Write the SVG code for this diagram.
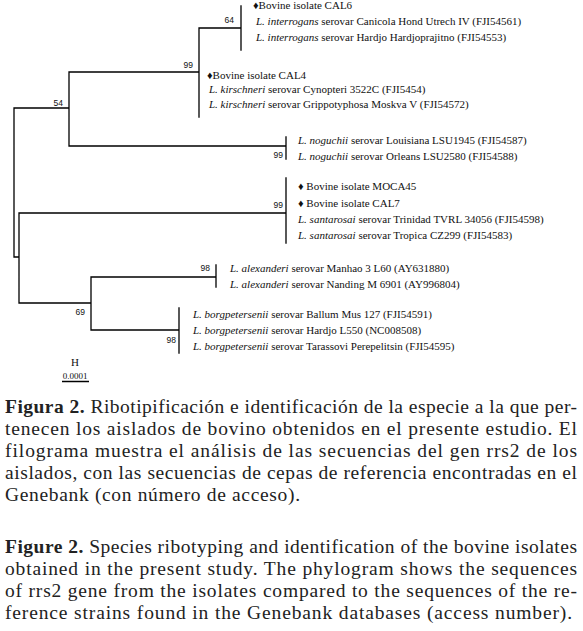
<svg xmlns="http://www.w3.org/2000/svg" width="583" height="631" viewBox="0 0 583 631">
<style>
.br{stroke:#000;stroke-width:1.3;fill:none;stroke-linecap:square}
.lb{font-family:"Liberation Serif","Times New Roman",serif;font-size:11px;fill:#111}
.sp{font-style:italic}
.bs{font-family:"Liberation Sans",Arial,sans-serif;font-size:8.5px;fill:#111;text-anchor:end}
.cap{font-family:"Liberation Serif","Times New Roman",serif;font-size:19.5px;fill:#222}
.b{font-weight:bold}
</style>
<rect width="583" height="631" fill="#fff"/>
<g id="connectors">
<path class="br" d="M241,6V50M199,28H241M199,28V117M69,72H199M69,72V146M14,108H69M69,146H286M286,137V159M14,108V257M14,257H19M19,213V303M19,213H286M286,178V243M19,303H91M91,277V330M91,277H216M216,265V287M91,330H179M179,308V353"/>
</g>
<g id="bootstrap">
<text class="bs" x="234" y="23">64</text>
<text class="bs" x="193" y="68">99</text>
<text class="bs" x="63" y="106">54</text>
<text class="bs" x="283" y="158">99</text>
<text class="bs" x="283" y="208">99</text>
<text class="bs" x="210" y="271">98</text>
<text class="bs" x="85" y="315">69</text>
<text class="bs" x="176" y="343">98</text>
</g>
<g id="clade-interrogans">
<text class="lb" x="253" y="9">♦Bovine isolate CAL6</text>
<text class="lb" x="256" y="25"><tspan class="sp">L. interrogans</tspan> serovar Canicola Hond Utrech IV (FJI54561)</text>
<text class="lb" x="256" y="41"><tspan class="sp">L. interrogans</tspan> serovar Hardjo Hardjoprajitno (FJI54553)</text>
</g>
<g id="clade-kirschneri">
<text class="lb" x="207" y="79">♦Bovine isolate CAL4</text>
<text class="lb" x="209" y="93"><tspan class="sp">L. kirschneri</tspan> serovar Cynopteri 3522C (FJI5454)</text>
<text class="lb" x="209" y="108"><tspan class="sp">L. kirschneri</tspan> serovar Grippotyphosa Moskva V (FJI54572)</text>
</g>
<g id="clade-noguchii">
<text class="lb" x="298" y="144"><tspan class="sp">L. noguchii</tspan> serovar Louisiana LSU1945 (FJI54587)</text>
<text class="lb" x="298" y="160"><tspan class="sp">L. noguchii</tspan> serovar Orleans LSU2580 (FJI54588)</text>
</g>
<g id="clade-santarosai">
<text class="lb" x="298" y="190">♦ Bovine isolate MOCA45</text>
<text class="lb" x="298" y="207">♦ Bovine isolate CAL7</text>
<text class="lb" x="298" y="223"><tspan class="sp">L. santarosai</tspan> serovar Trinidad TVRL 34056 (FJI54598)</text>
<text class="lb" x="298" y="239"><tspan class="sp">L. santarosai</tspan> serovar Tropica CZ299 (FJI54583)</text>
</g>
<g id="clade-alexanderi">
<text class="lb" x="230" y="272"><tspan class="sp">L. alexanderi</tspan> serovar Manhao 3 L60 (AY631880)</text>
<text class="lb" x="230" y="288"><tspan class="sp">L. alexanderi</tspan> serovar Nanding M 6901 (AY996804)</text>
</g>
<g id="clade-borgpetersenii">
<text class="lb" x="193" y="318"><tspan class="sp">L. borgpetersenii</tspan> serovar Ballum Mus 127 (FJI54591)</text>
<text class="lb" x="193" y="334"><tspan class="sp">L. borgpetersenii</tspan> serovar Hardjo L550 (NC008508)</text>
<text class="lb" x="193" y="350"><tspan class="sp">L. borgpetersenii</tspan> serovar Tarassovi Perepelitsin (FJI54595)</text>
</g>
<g id="scale">
<text class="lb" x="75" y="366" text-anchor="middle">H</text>
<text class="lb" x="75" y="379" text-anchor="middle" style="font-size:9px">0.0001</text>
<path d="M62,381.5H89" stroke="#000" stroke-width="1.5"/>
</g>
<g id="caption-es">
<text class="cap" x="5" y="413" textLength="572" lengthAdjust="spacing"><tspan class="b">Figura 2.</tspan> Ribotipificación e identificación de la especie a la que per-</text>
<text class="cap" x="5" y="435" textLength="572" lengthAdjust="spacing">tenecen los aislados de bovino obtenidos en el presente estudio. El</text>
<text class="cap" x="5" y="457" textLength="572" lengthAdjust="spacing">filograma muestra el análisis de las secuencias del gen rrs2 de los</text>
<text class="cap" x="5" y="479" textLength="572" lengthAdjust="spacing">aislados, con las secuencias de cepas de referencia encontradas en el</text>
<text class="cap" x="5" y="501" textLength="295" lengthAdjust="spacing">Genebank (con número de acceso).</text>
</g>
<g id="caption-en">
<text class="cap" x="5" y="553" textLength="572" lengthAdjust="spacing"><tspan class="b">Figure 2.</tspan> Species ribotyping and identification of the bovine isolates</text>
<text class="cap" x="5" y="575" textLength="572" lengthAdjust="spacing">obtained in the present study. The phylogram shows the sequences</text>
<text class="cap" x="5" y="597" textLength="572" lengthAdjust="spacing">of rrs2 gene from the isolates compared to the sequences of the re-</text>
<text class="cap" x="5" y="619" textLength="567" lengthAdjust="spacing">ference strains found in the Genebank databases (access number).</text>
</g>
</svg>
